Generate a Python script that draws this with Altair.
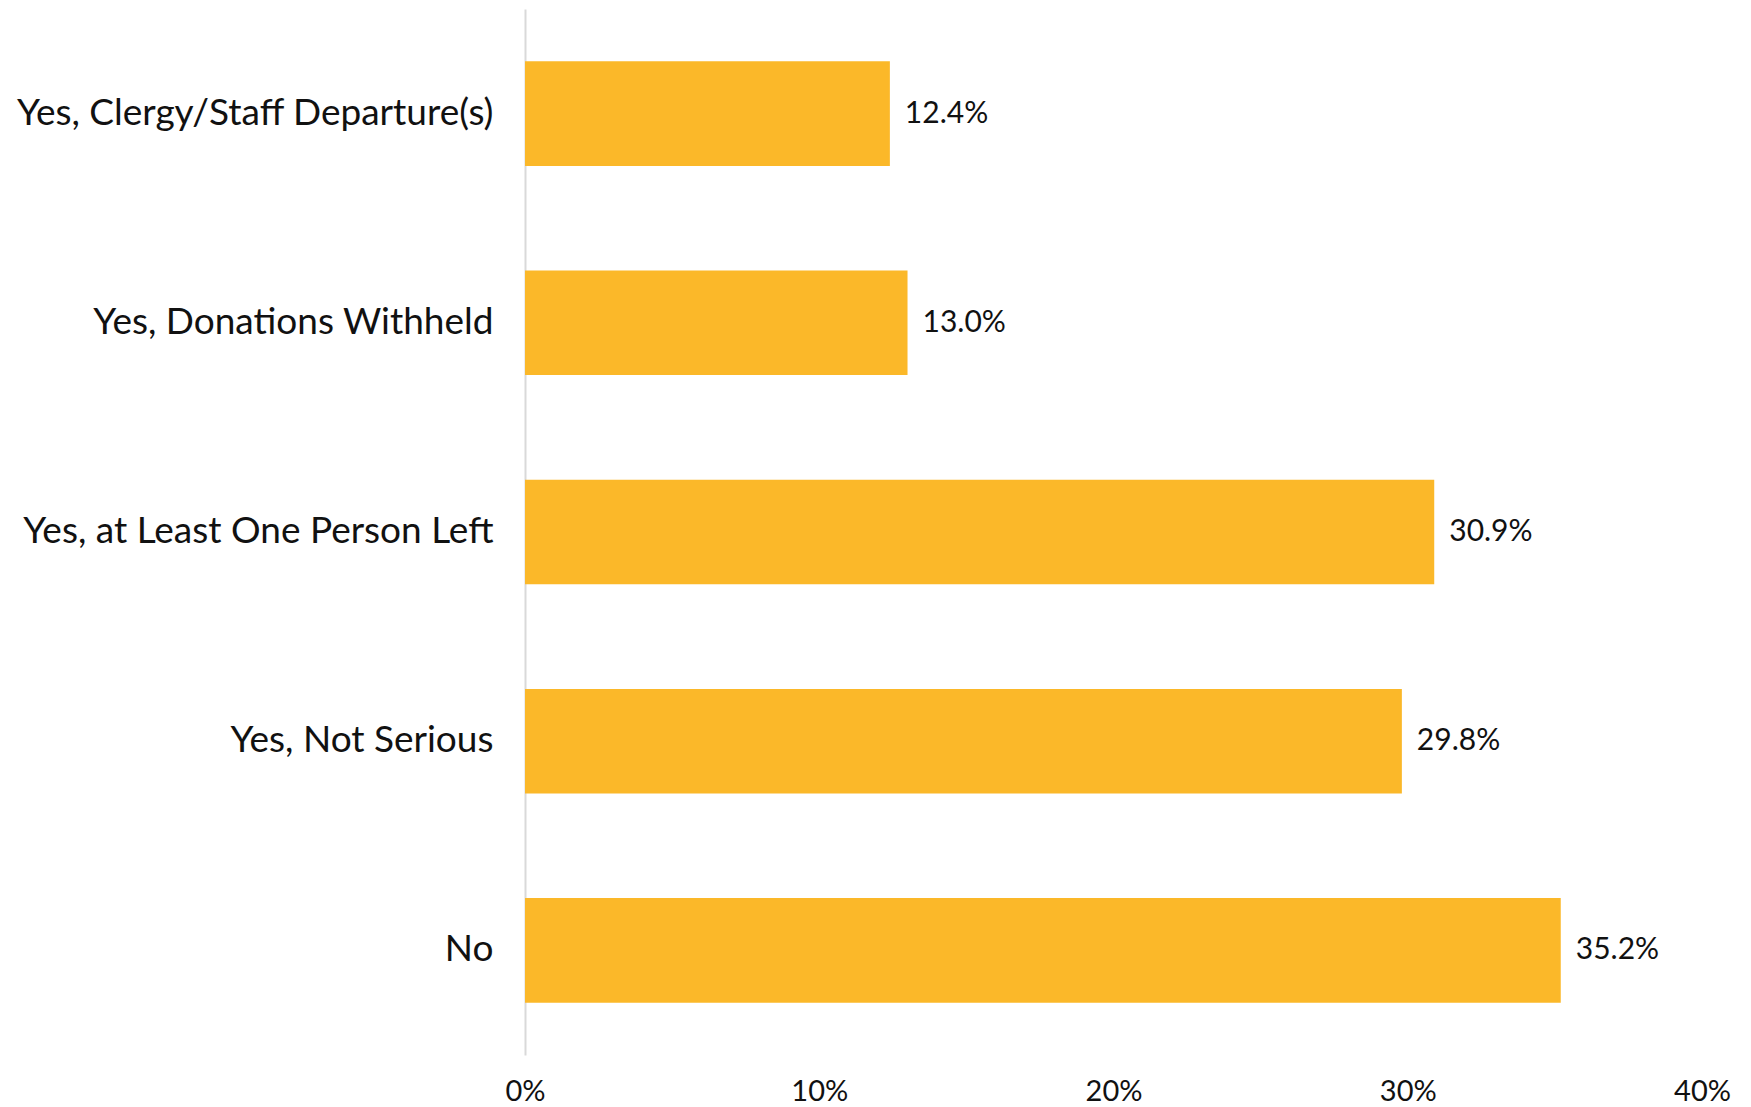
import altair as alt
import pandas as pd

categories = ["Yes, Clergy/Staff Departure(s)", "Yes, Donations Withheld",
              "Yes, at Least One Person Left", "Yes, Not Serious", "No"]
values = [0.124, 0.130, 0.309, 0.298, 0.352]
labels = ["12.4%", "13.0%", "30.9%", "29.8%", "35.2%"]

df = pd.DataFrame({"cat": categories, "val": values, "lab": labels})

FONT = "Lato"

y = alt.Y("cat:N", sort=categories, title=None,
          scale=alt.Scale(paddingInner=0.5, paddingOuter=0.25),
          axis=alt.Axis(labelFont=FONT, labelFontSize=37, labelColor="#111111",
                        labelPadding=32, ticks=False, domainColor="#d9d9d9",
                        domainWidth=2, labelLimit=700))
x = alt.X("val:Q", title=None,
          scale=alt.Scale(domain=[0, 0.4], nice=False),
          axis=alt.Axis(format=".0%", values=[0, 0.1, 0.2, 0.3, 0.4],
                        labelFont=FONT, labelFontSize=29, labelColor="#111111",
                        ticks=False, domain=False, grid=False, labelPadding=22,
                        labelFlush=False))

bars = alt.Chart(df).mark_bar(color="#FBB829").encode(x=x, y=y)
text = alt.Chart(df).mark_text(align="left", baseline="middle", dx=15,
                               font=FONT, fontSize=30, color="#111111").encode(
    x="val:Q", y=alt.Y("cat:N", sort=categories), text="lab:N")

chart = (bars + text).properties(
    width=1177, height=1046,
    padding={"left": 517, "top": 1, "right": 30, "bottom": 50},
    autosize=alt.AutoSizeParams(type="none"),
).configure_view(stroke=None)

chart.save("out.html", embed_options={"renderer": "svg", "actions": False})
